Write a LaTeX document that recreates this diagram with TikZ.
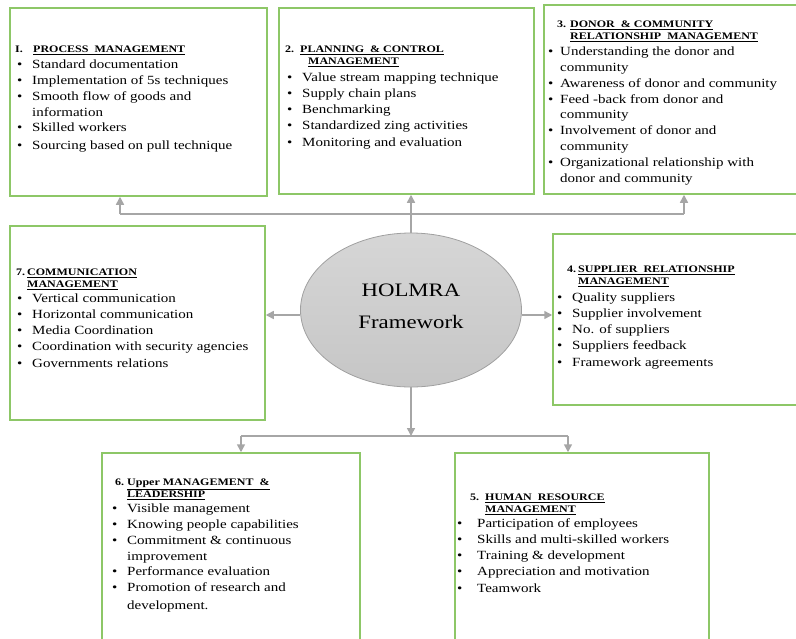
\documentclass[tikz,border=0pt]{standalone}
\usepackage{fontspec}
\setmainfont{Liberation Serif}[FakeStretch=1.2]
\usetikzlibrary{arrows.meta,shapes.geometric}
\definecolor{boxgreen}{RGB}{141,199,103}
\definecolor{linkgray}{RGB}{166,166,166}
\definecolor{elltop}{RGB}{214,214,214}
\definecolor{ellbot}{RGB}{198,198,198}
\definecolor{ellline}{RGB}{160,160,160}
\newcommand{\bu}{\textbullet}
\newenvironment{blist}[1]{\fontsize{12.5}{15.8}\selectfont\begin{tabular}{@{}p{#1}@{}l@{}}}{\end{tabular}}
\newenvironment{htab}[1]{\fontsize{10}{12}\selectfont\bfseries\begin{tabular}[t]{@{}p{#1}@{}l@{}}}{\end{tabular}}
\begin{document}
\begin{tikzpicture}[x=1pt,y=-1pt,
  boxframe/.style={draw=boxgreen,line width=1.5pt,inner sep=0pt},
  headtext/.style={anchor=base west,inner sep=0pt},
  listtext/.style={anchor=north west,inner sep=0pt},
  hubstyle/.style={ellipse,draw=ellline,line width=.8pt,top color=elltop,bottom color=ellbot,minimum width=221pt,minimum height=154pt,inner sep=0pt},
  link/.style={draw=linkgray,line width=1.5pt},
  arr/.style={-{Triangle[length=8pt,width=8pt]}}]
\path[use as bounding box,clip] (0,0) rectangle (796,638);

\node (proc) at (138.5,102) [boxframe,minimum width=257pt,minimum height=188pt] {};
\node (proc-h) at (15,52.4) [headtext] {\begin{htab}{18pt}I. & \underline{PROCESS\ \ MANAGEMENT}\end{htab}};
\node (proc-l) at (17,57.5) [listtext] {\begin{blist}{15pt}
\bu & Standard documentation\\
\bu & Implementation of 5s techniques\\
\bu & Smooth flow of goods and\\
 & information\\
\bu & Skilled workers\\[2pt]
\bu & Sourcing based on pull technique
\end{blist}};

\node (plan) at (406.5,101) [boxframe,minimum width=255pt,minimum height=186pt] {};
\node (plan-h) at (285,52.4) [headtext] {\begin{htab}{15pt}2. & \underline{PLANNING\ \ \& CONTROL}\\
 & \hspace*{8pt}\underline{MANAGEMENT}\end{htab}};
\node (plan-l) at (287,70.5) [listtext] {\begin{blist}{15pt}
\bu & Value stream mapping technique\\
\bu & Supply chain plans\\
\bu & Benchmarking\\
\bu & Standardized zing activities\\[2pt]
\bu & Monitoring and evaluation
\end{blist}};

\node (donor) at (675,99.5) [boxframe,minimum width=262pt,minimum height=189pt] {};
\node (donor-h) at (557,27.4) [headtext] {\begin{htab}{13pt}3. & \underline{DONOR\ \ \& COMMUNITY}\\
 & \underline{RELATIONSHIP\ \ MANAGEMENT}\end{htab}};
\node (donor-l) at (548,44.5) [listtext] {\begin{blist}{12pt}
\bu & Understanding the donor and\\
 & community\\
\bu & Awareness of donor and community\\
\bu & Feed -back from donor and\\
 & community\\
\bu & Involvement of donor and\\
 & community\\
\bu & Organizational relationship with\\
 & donor and community
\end{blist}};

\node (comm) at (137.5,323) [boxframe,minimum width=255pt,minimum height=194pt] {};
\node (comm-h) at (16,275.4) [headtext] {\begin{htab}{11pt}7. & \underline{COMMUNICATION}\\
 & \underline{MANAGEMENT}\end{htab}};
\node (comm-l) at (17,291.5) [listtext] {\begin{blist}{15pt}
\bu & Vertical communication\\
\bu & Horizontal communication\\
\bu & Media Coordination\\
\bu & Coordination with security agencies\\[2pt]
\bu & Governments relations
\end{blist}};

\node (supp) at (679.5,319.5) [boxframe,minimum width=253pt,minimum height=171pt] {};
\node (supp-h) at (567,272.4) [headtext] {\begin{htab}{11pt}4. & \underline{SUPPLIER\ \ RELATIONSHIP}\\
 & \underline{MANAGEMENT}\end{htab}};
\node (supp-l) at (557,290.5) [listtext] {\begin{blist}{15pt}
\bu & Quality suppliers\\
\bu & Supplier involvement\\
\bu & No. of suppliers\\
\bu & Suppliers feedback\\[2pt]
\bu & Framework agreements
\end{blist}};

\node (lead) at (231,556.5) [boxframe,minimum width=258pt,minimum height=207pt] {};
\node (lead-h) at (115,485.4) [headtext] {\begin{htab}{12pt}6. & \underline{Upper MANAGEMENT\ \ \&}\\
 & \underline{LEADERSHIP}\end{htab}};
\node (lead-l) at (112,501.5) [listtext] {\begin{blist}{15pt}
\bu & Visible management\\
\bu & Knowing people capabilities\\
\bu & Commitment \& continuous\\
 & improvement\\
\bu & Performance evaluation\\
\bu & Promotion of research and\\[2pt]
 & development.
\end{blist}};

\node (hrm) at (582,556.5) [boxframe,minimum width=254pt,minimum height=207pt] {};
\node (hrm-h) at (470,500.4) [headtext] {\begin{htab}{15pt}5. & \underline{HUMAN\ \ RESOURCE}\\
 & \underline{MANAGEMENT}\end{htab}};
\node (hrm-l) at (457,516.5) [listtext] {\begin{blist}{20pt}
\bu & Participation of employees\\
\bu & Skills and multi-skilled workers\\
\bu & Training \& development\\
\bu & Appreciation and motivation\\[2pt]
\bu & Teamwork
\end{blist}};

\node (hub) at (411,310) [hubstyle] {};
\node (hub-t) at ([yshift=4pt]hub.center) [align=center,font={\fontsize{19}{32}\selectfont}] {HOLMRA\\Framework};

\coordinate (jl) at (120,214);
\coordinate (jr) at (684,214);
\coordinate (jd) at (411,436);
\coordinate (jdl) at (241,436);
\coordinate (jdr) at (568,436);

\draw[link] (jl) to (jr);
\draw[link,arr] (jl) to (jl |- proc.south);
\draw[link,arr] (jr) to (jr |- donor.south);
\draw[link,arr] (hub.north) to (hub.north |- plan.south);
\draw[link,arr] ([yshift=-5pt]hub.west) to ([yshift=-5pt]hub.west -| comm.east);
\draw[link,arr] ([yshift=-5pt]hub.east) to ([yshift=-5pt]hub.east -| supp.west);
\draw[link,arr] (hub.south) to (jd);
\draw[link] (jdl) to (jdr);
\draw[link,arr] (jdl) to (jdl |- lead.north);
\draw[link,arr] (jdr) to (jdr |- hrm.north);
\end{tikzpicture}
\end{document}
